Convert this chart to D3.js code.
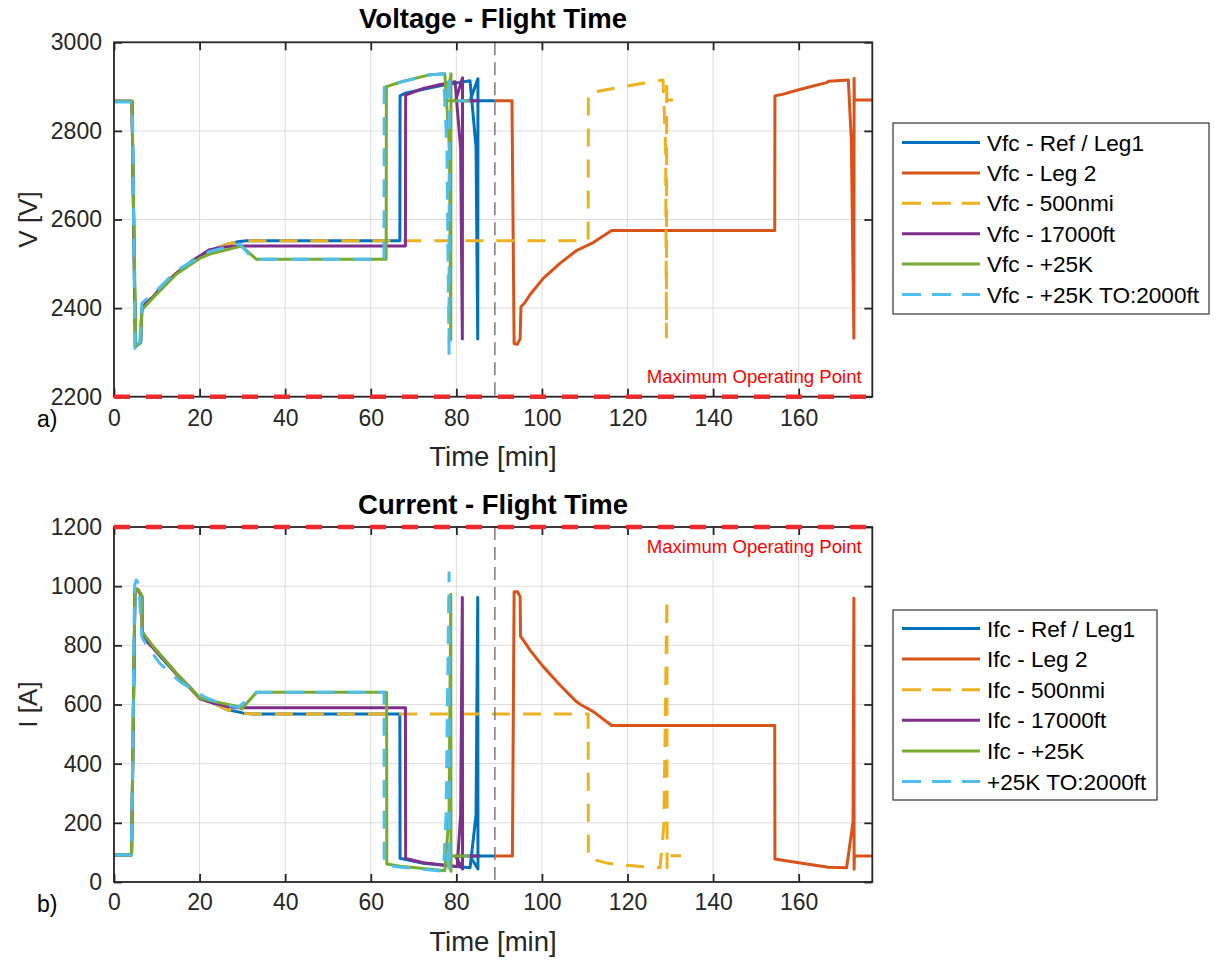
<!DOCTYPE html>
<html><head><meta charset="utf-8">
<script src="https://cdn.jsdelivr.net/npm/d3@7"></script>
<style>
body{margin:0;background:#fff;}
svg{display:block;font-family:"Liberation Sans",Arial,Helvetica,sans-serif;}
</style>
</head><body>
<svg id="chart" width="1214" height="960"></svg>
<script>
// ---------------- DATA ----------------
const xTicks = [0, 20, 40, 60, 80, 100, 120, 140, 160];
const vTicks = [2200, 2400, 2600, 2800, 3000];
const iTicks = [0, 200, 400, 600, 800, 1000, 1200];
const voltLegend = ["Vfc - Ref / Leg1", "Vfc - Leg 2", "Vfc - 500nmi", "Vfc - 17000ft", "Vfc - +25K", "Vfc - +25K TO:2000ft"];
const currLegend = ["Ifc - Ref / Leg1", "Ifc - Leg 2", "Ifc - 500nmi", "Ifc - 17000ft", "Ifc - +25K", "+25K TO:2000ft"];
const legBoundary = 89;     // end of Leg 1 [min]
const maxVolt = 2200;       // maximum operating point (voltage)
const maxCurr = 1200;       // maximum operating point (current)

// Ref / Leg1
const tRefV = [0,4.2,5.0,6.2,6.5,7.5,9.2,11,14.6,18.5,22.4,26.7,29,31,66.8,66.85,68,72.3,77.3,83.2,84.6,85.0,85.05,83.2,89.0];
const vRef  = [2867,2867,2313,2322,2396,2412,2426,2447,2479,2508,2530,2545,2550,2552,2552,2879,2885,2894,2904,2913,2764,2330,2918,2868,2868];
const tRefI = [0,4.1,4.9,5.5,6.5,6.6,7.5,9.2,11,14.6,18,20.1,22.4,26.7,28.7,30.5,32.5,66.8,66.85,72.3,83.2,84.6,85.0,85.05,83.2,89.0];
const iRef  = [91,91,990,990,965,846,820,795,765,705,655,621,610,581,576,570,568,568,80,63,48,226,962,44,88,88];

// Leg 2
const tLeg2V = [89,93,93.5,94.2,94.9,95.1,96,97.2,100.3,104.2,108.1,112,116.3,154.4,154.45,156,160,166.5,167,171.6,172.3,172.9,172.95,173,177.2];
const vLeg2  = [2868,2868,2320,2318,2330,2403,2412,2430,2467,2501,2530,2548,2575,2575,2879,2882,2893,2909,2912,2915,2779,2332,2919,2870,2870];
const tLeg2I = [89,93.1,93.5,94.3,94.9,95.0,96.5,97.2,100.3,104.2,108.1,109,112,116.3,154.4,154.45,160,166.9,171.2,172.7,172.9,172.95,173,177.2];
const iLeg2  = [88,88,981,981,964,831,800,784,728,666,609,600,576,529,529,78,65,50,48,204,959,43,88,88];

// 500nmi
const t500V = [0,4.2,5.0,6.2,6.5,7.5,9.2,11,14.6,18.5,22.4,26.7,29,31,110.8,110.85,115,123.3,128.3,128.9,129.1,129.15,129.2,133];
const v500  = [2867,2867,2313,2322,2396,2412,2426,2447,2479,2508,2530,2545,2550,2552,2552,2885,2893,2907,2915,2760,2335,2915,2870,2870];
const t500I = [0,4.1,4.9,5.5,6.5,6.6,7.5,9.2,11,14.6,18,20.1,22.4,26.7,28.7,30.5,32.5,110.8,110.85,115.5,119,127.6,128.5,129.2,129.25,129.2,132.5];
const i500  = [91,91,990,990,965,846,820,795,765,705,655,621,610,581,576,570,568,568,80,63,57,48,193,959,48,89,89];

// 17000ft
const t17V = [0,4.2,5.0,6.2,6.5,7.5,9.2,11,14.6,18.5,22.4,26,28.5,68.1,68.15,72.3,76,79.7,81,81.4,81.45,79.8,85.5];
const v17  = [2867,2867,2313,2322,2396,2412,2426,2447,2479,2508,2532,2538,2540,2540,2881,2896,2904,2911,2760,2330,2920,2868,2868];
const t17I = [0,4.1,4.9,5.5,6.5,6.6,7.5,9.2,11,14.6,18,20.1,22.4,26.7,29,68.1,68.15,72.3,80.2,81,81.4,81.45,79.8,85.5];
const i17  = [91,91,990,990,965,846,815,790,760,702,652,619,608,592,589,589,80,65,52,226,962,44,88,88];

// +25K
const t25V = [0,4.2,5.1,6.3,6.5,9.2,14.6,20,22.4,29.8,33.3,63.6,63.65,67.2,73.4,77.3,78.4,78.7,78.75,77.6,83.2];
const v25  = [2867,2867,2313,2324,2396,2424,2477,2512,2522,2540,2510,2510,2900,2911,2926,2929,2760,2328,2929,2868,2868];
const t25I = [0,4.1,4.9,5.5,6.5,6.6,9.2,14.6,20.1,22.4,29,29.8,33.3,63.7,63.75,67.6,77.3,78.3,78.7,78.75,77.6,83.2];
const i25  = [91,91,990,990,970,846,795,705,621,613,593,585,641,641,61,52,38,226,973,36,88,88];

// +25K TO:2000ft
const t25TV = [0,4.3,4.9,5.9,6.5,7.5,9.2,14.6,22.4,29.4,32.5,63.1,63.15,67,73.4,77,77.8,78.3,78.35,77.9,82.4];
const v25T  = [2865,2865,2302,2302,2411,2420,2432,2485,2528,2545,2510,2510,2898,2910,2926,2929,2760,2290,2929,2868,2868];
const t25TI = [0,4.1,4.8,5.2,5.8,6.2,6.5,7.6,10.7,15.4,21.7,26,29,31,33.3,63.1,63.15,67,77,77.6,78.3,78.35,77.9,82.4];
const i25T  = [91,91,1000,1021,1010,900,829,801,739,677,621,600,590,615,641,641,58,50,36,226,1045,36,88,88];

// ---------------- STYLE ----------------
const colors = ["#0072BD","#D95319","#EDB120","#7E2F8E","#77AC30","#4DBEEE"];
const isDashed = [false,false,true,false,false,true];
const voltSeries = [[tRefV,vRef],[tLeg2V,vLeg2],[t500V,v500],[t17V,v17],[t25V,v25],[t25TV,v25T]];
const currSeries = [[tRefI,iRef],[tLeg2I,iLeg2],[t500I,i500],[t17I,i17],[t25I,i25],[t25TI,i25T]];

const svg = d3.select("#chart");
const AX = "#262626";
const x = d3.scaleLinear().domain([0,177.2]).range([114,872.3]);

function panel(opt){
  const y = d3.scaleLinear().domain(opt.ydom).range([opt.bottom, opt.top]);
  const g = svg.append("g");
  // grid
  g.append("g").selectAll("line").data(xTicks).join("line")
    .attr("x1",d=>x(d)).attr("x2",d=>x(d)).attr("y1",opt.top).attr("y2",opt.bottom)
    .attr("stroke","#dcdcdc").attr("stroke-width",1);
  g.append("g").selectAll("line").data(opt.yticks).join("line")
    .attr("x1",x.range()[0]).attr("x2",x.range()[1]).attr("y1",d=>y(d)).attr("y2",d=>y(d))
    .attr("stroke","#dcdcdc").attr("stroke-width",1);
  // axes with inward ticks
  const fs = "23px";
  const fmt = d3.format("d");
  const ab = g.append("g").attr("transform",`translate(0,${opt.bottom})`)
    .call(d3.axisBottom(x).tickValues(xTicks).tickFormat(fmt).tickSizeInner(-8).tickSizeOuter(0).tickPadding(opt.xpad));
  const at = g.append("g").attr("transform",`translate(0,${opt.top})`)
    .call(d3.axisTop(x).tickValues(xTicks).tickSizeInner(-8).tickSizeOuter(0).tickFormat(""));
  const al = g.append("g").attr("transform",`translate(${x.range()[0]},0)`)
    .call(d3.axisLeft(y).tickValues(opt.yticks).tickFormat(fmt).tickSizeInner(-8).tickSizeOuter(0).tickPadding(12));
  const ar = g.append("g").attr("transform",`translate(${x.range()[1]},0)`)
    .call(d3.axisRight(y).tickValues(opt.yticks).tickSizeInner(-8).tickSizeOuter(0).tickFormat(""));
  [ab,at,al,ar].forEach(a=>{
    a.select(".domain").remove();
    a.selectAll(".tick line").attr("stroke",AX).attr("stroke-width",1.8);
    a.selectAll("text").attr("fill",AX).style("font-size",fs).style("font-family",null);
  });
  // data lines
  const line = d3.line().x(d=>x(d[0])).y(d=>y(d[1]));
  opt.series.forEach((s,k)=>{
    const pts = s[0].map((t,j)=>[t,s[1][j]]);
    g.append("path").datum(pts).attr("d",line).attr("fill","none")
      .attr("stroke",colors[k]).attr("stroke-width",3)
      .attr("stroke-linejoin","round")
      .attr("stroke-dasharray",isDashed[k]?"18,13":null);
  });
  // leg boundary
  g.append("line").attr("x1",x(legBoundary)).attr("x2",x(legBoundary))
    .attr("y1",opt.top).attr("y2",opt.bottom)
    .attr("stroke","#7a7a7a").attr("stroke-width",1.5).attr("stroke-dasharray","13,7");
  // box
  g.append("rect").attr("x",x.range()[0]).attr("y",opt.top)
    .attr("width",x.range()[1]-x.range()[0]).attr("height",opt.bottom-opt.top)
    .attr("fill","none").attr("stroke",AX).attr("stroke-width",1.8);
  // maximum operating line
  g.append("line").attr("x1",x.range()[0]).attr("x2",x.range()[1])
    .attr("y1",y(opt.maxVal)).attr("y2",y(opt.maxVal))
    .attr("stroke","#f02a2a").attr("stroke-width",4.5).attr("stroke-dasharray","16,16");
  g.append("text").attr("x",861.7).attr("y",opt.motY).attr("text-anchor","end")
    .attr("fill","#ff0000").style("font-size","18.6px").text("Maximum Operating Point");
  // titles and labels
  g.append("text").attr("x",493).attr("y",opt.titleY).attr("text-anchor","middle")
    .attr("fill","#000").style("font-size","27.5px").style("font-weight","bold").text(opt.title);
  g.append("text").attr("x",493).attr("y",opt.xlabY).attr("text-anchor","middle")
    .attr("fill",AX).style("font-size","27.5px").text("Time [min]");
  g.append("text").attr("transform",`translate(37,${(opt.top+opt.bottom)/2}) rotate(-90)`)
    .attr("text-anchor","middle").attr("fill",AX).style("font-size","26px").text(opt.ylab);
  g.append("text").attr("x",37).attr("y",opt.tagY).attr("fill","#000")
    .style("font-size","23px").text(opt.tag);
  // legend
  const L = opt.leg;
  g.append("rect").attr("x",L.x).attr("y",L.y).attr("width",L.w).attr("height",L.h)
    .attr("fill","#fff").attr("stroke","#333").attr("stroke-width",1.2);
  opt.labels.forEach((lab,k)=>{
    const ry = L.row0 + k*L.step;
    g.append("line").attr("x1",902).attr("x2",980).attr("y1",ry).attr("y2",ry)
      .attr("stroke",colors[k]).attr("stroke-width",3)
      .attr("stroke-dasharray",isDashed[k]?"19,11":null);
    g.append("text").attr("x",987).attr("y",ry+8).attr("fill","#000")
      .style("font-size","22.6px").text(lab);
  });
}

panel({ydom:[2200,3000], top:42.3, bottom:396.7, yticks:vTicks, series:voltSeries, maxVal:maxVolt,
  motY:383, title:"Voltage - Flight Time", titleY:28, xlabY:466, ylab:"V [V]", tag:"a)", tagY:427, xpad:13,
  labels:voltLegend, leg:{x:893,y:123,w:316,h:191,row0:142.5,step:30.4}});
panel({ydom:[0,1200], top:527, bottom:882, yticks:iTicks, series:currSeries, maxVal:maxCurr,
  motY:553, title:"Current - Flight Time", titleY:514, xlabY:951, ylab:"I [A]", tag:"b)", tagY:912, xpad:12,
  labels:currLegend, leg:{x:893,y:610,w:264,h:190,row0:628.5,step:30.6}});
</script>
</body></html>
